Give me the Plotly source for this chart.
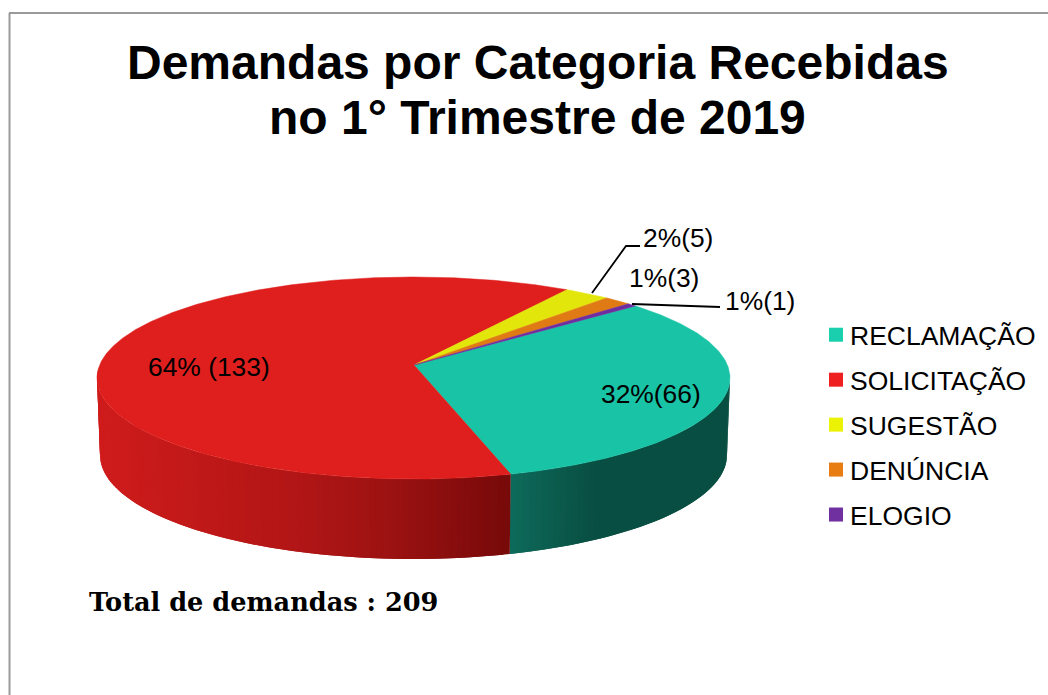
import numpy as np
import plotly.graph_objects as go

categories = ["RECLAMAÇÃO", "SOLICITAÇÃO", "SUGESTÃO", "DENÚNCIA", "ELOGIO"]
values = [66, 133, 5, 3, 1]
labels = ["32%(66)", "64% (133)", "2%(5)", "1%(3)", "1%(1)"]
top_colors = ["#19c3a6", "#df1f1d", "#e2e60a", "#e07a14", "#6f2da0"]
legend_colors = ["#19cfae", "#ee2020", "#ecf203", "#e87d14", "#7030a0"]
title_lines = ["Demandas por Categoria Recebidas", "no 1° Trimestre de 2019"]
total_text = "Total de demandas : 209"

# Pie geometry in pixel-like axis units (axes span the full 1048x695 page)
CX, CY, RX, RY = 413.5, 378, 316.5, 101
BCY, BRX, BRY = 455, 313.5, 104
APEX = (414, 365)
START_DEG = -45.5
WARP = 2.4  # slight perspective stretch of the front of the pie, degrees
TEXT_FONT = "Liberation Sans, Arial, sans-serif"

# Side shading anchors: screen x -> RGB
side_shades = {
    0: ([512, 600, 730], [(14, 108, 92), (9, 78, 66), (9, 78, 66)]),
    1: ([97, 300, 400, 512], [(208, 28, 28), (178, 22, 22), (155, 18, 18), (120, 10, 10)]),
}

fracs = np.array(values, dtype=float) / sum(values) * 360.0
ends = START_DEG + np.cumsum(fracs)
starts = ends - fracs

fig = go.Figure()


def warp(t):
    return t + WARP * (1 - np.cos(np.radians(t - START_DEG)))


def top_xy(t):
    r = np.radians(warp(t))
    return CX + RX * np.cos(r), CY + RY * np.sin(r)


def bot_xy(t):
    r = np.radians(warp(t))
    return CX + BRX * np.cos(r), BCY + BRY * np.sin(r)


def side_rgb(i, x):
    xs, cols = side_shades[i]
    return "rgb(%d,%d,%d)" % tuple(np.interp(x, xs, [c[k] for c in cols]) for k in range(3))


# Visible side walls: slices overlapping 0..180 degrees of the ellipse.
# Each strip reaches into the next one so that no seams show.
for i, (a, b) in enumerate(zip(starts, ends)):
    if i not in side_shades:
        continue
    lo, hi = max(a, 0.0), min(b, 180.0)
    if hi <= lo:
        continue
    edges = np.linspace(lo, hi, int((hi - lo) / 1.2) + 2)
    for t0, t1 in zip(edges[:-1], np.r_[edges[2:], edges[-1]]):
        ts = np.linspace(t0, t1, 4)
        tx, ty = top_xy(ts)
        bx, by = bot_xy(ts[::-1])
        col = side_rgb(i, float(tx[0]))
        fig.add_trace(go.Scatter(
            x=np.r_[tx, bx, tx[0]], y=np.r_[ty, by, ty[0]], mode="lines",
            fill="toself", fillcolor=col, line=dict(color=col, width=0),
            hoverinfo="skip", showlegend=False))

# Top faces
for a, b, col, name in zip(starts, ends, top_colors, categories):
    ts = np.linspace(a, b, max(int(b - a) * 2, 6))
    ax, ay = top_xy(ts)
    fig.add_trace(go.Scatter(
        x=np.r_[APEX[0], ax, APEX[0]], y=np.r_[APEX[1], ay, APEX[1]], mode="lines",
        fill="toself", fillcolor=col, line=dict(color=col, width=0.5),
        name=name, showlegend=False))

# Legend entries
for name, col in zip(categories, legend_colors):
    fig.add_trace(go.Scatter(
        x=[None], y=[None], mode="markers", name=name, legendgroup=name,
        marker=dict(symbol="square", size=14, color=col)))

# Leader lines
for xs, ys in [([592, 626, 640], [293, 246, 246]), ([632, 720], [304, 307])]:
    fig.add_trace(go.Scatter(x=xs, y=ys, mode="lines", showlegend=False, hoverinfo="skip",
                             line=dict(color="#000000", width=1.8)))

anns = []
for text, x, y in [(title_lines[0], 537.5, 62), (title_lines[1], 537, 117)]:
    anns.append(dict(x=x, y=y, text="<b>%s</b>" % text, showarrow=False, xanchor="center",
                     yanchor="middle", font=dict(family=TEXT_FONT, size=48, color="#000")))
for text, x, y in [(labels[0], 651, 394), (labels[1], 209, 367), (labels[2], 678, 238),
                   (labels[3], 664, 278), (labels[4], 760, 301)]:
    anns.append(dict(x=x, y=y, text=text, showarrow=False, xanchor="center", yanchor="middle",
                     font=dict(family=TEXT_FONT, size=26.4, color="#000")))
anns.append(dict(x=87, y=602, text="<b>%s</b>" % total_text, showarrow=False, xanchor="left",
                 yanchor="middle", font=dict(family="DejaVu Serif, Georgia, serif", size=25.6, color="#000")))

fig.update_layout(
    width=1048, height=695, margin=dict(l=0, r=0, t=0, b=0),
    paper_bgcolor="#ffffff", plot_bgcolor="#ffffff",
    xaxis=dict(range=[0, 1048], visible=False, domain=[0, 1], fixedrange=True),
    yaxis=dict(range=[695, 0], visible=False, domain=[0, 1], fixedrange=True),
    annotations=anns,
    legend=dict(x=810 / 1048, y=1 - 311 / 695, xanchor="left", yanchor="top", tracegroupgap=7.5,
                font=dict(family=TEXT_FONT, size=26.5, color="#000"), bgcolor="rgba(0,0,0,0)",
                itemclick=False, itemdoubleclick=False),
    shapes=[dict(type="line", x0=9.5, x1=9.5, y0=13, y1=695, line=dict(color="#9a9a9a", width=2)),
            dict(type="line", x0=9, x1=1048, y0=13, y1=13, line=dict(color="#9a9a9a", width=2))],
)
post = ("document.body.style.margin='0';document.body.style.overflow='hidden';"
        "document.querySelectorAll('.legend .legendsymbols').forEach(function(g){"
        "g.setAttribute('transform','translate(6,0)');});")
fig.write_html("out.html", post_script=post, config={"displayModeBar": False})
